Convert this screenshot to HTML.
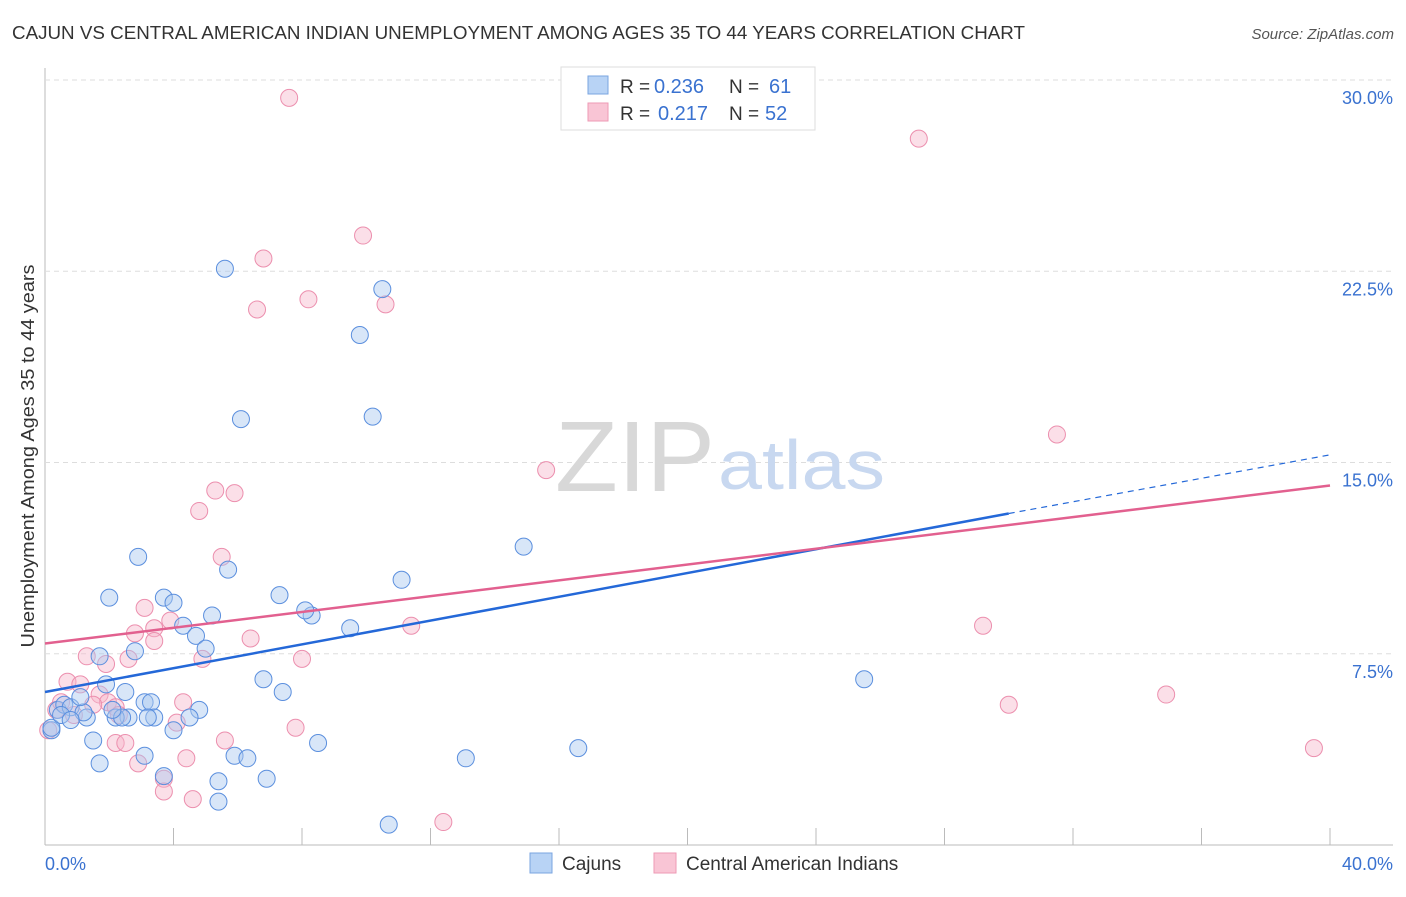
<!DOCTYPE html>
<html><head><meta charset="utf-8"><style>
body{margin:0;background:#fff;font-family:"Liberation Sans",sans-serif;}
svg text{font-family:"Liberation Sans",sans-serif;}
</style></head><body>
<svg id="c" width="1406" height="892" xmlns="http://www.w3.org/2000/svg">
<text x="12" y="39" font-size="18" fill="#333" textLength="1013" lengthAdjust="spacingAndGlyphs">CAJUN VS CENTRAL AMERICAN INDIAN UNEMPLOYMENT AMONG AGES 35 TO 44 YEARS CORRELATION CHART</text>
<text x="1394" y="39" font-size="15" fill="#555" text-anchor="end" font-style="italic">Source: ZipAtlas.com</text>
<text x="34" y="456" font-size="18" fill="#333" text-anchor="middle" textLength="383" lengthAdjust="spacingAndGlyphs" transform="rotate(-90 34 456)">Unemployment Among Ages 35 to 44 years</text>
<g id="grid"></g>
<text x="555" y="491" font-size="100" fill="#d8d8d8" textLength="160" lengthAdjust="spacingAndGlyphs" font-family="Liberation Serif">ZIP</text>
<text x="718" y="489" font-size="70" fill="#c8d8f0" textLength="167" lengthAdjust="spacingAndGlyphs">atlas</text>
<g id="pts"></g>
<g id="lines"></g>
<g>
<rect x="561" y="67" width="254" height="63" fill="#fff" stroke="#ddd"/>
<rect x="588" y="76" width="20" height="18" fill="#b8d3f5" stroke="#7aa5e0"/>
<rect x="588" y="103" width="20" height="18" fill="#f9c5d5" stroke="#ee9ab5"/>
<text x="620" y="93" font-size="19" fill="#333">R =</text>
<text x="654" y="93" font-size="20" fill="#3a72d0">0.236</text>
<text x="729" y="93" font-size="19" fill="#333">N =</text>
<text x="769" y="93" font-size="20" fill="#3a72d0">61</text>
<text x="620" y="120" font-size="19" fill="#333">R =</text>
<text x="658" y="120" font-size="20" fill="#3a72d0">0.217</text>
<text x="729" y="120" font-size="19" fill="#333">N =</text>
<text x="765" y="120" font-size="20" fill="#3a72d0">52</text>
</g>
<g>
<rect x="530" y="853" width="22" height="20" fill="#b8d3f5" stroke="#7aa5e0"/>
<text x="562" y="870" font-size="19" fill="#333">Cajuns</text>
<rect x="654" y="853" width="22" height="20" fill="#f9c5d5" stroke="#ee9ab5"/>
<text x="686" y="870" font-size="19" fill="#333">Central American Indians</text>
</g>
</svg>
<script>
const xTicks=[0,4,8,12,16,20,24,28,32,36,40];
const yTicks=[7.5,15,22.5,30];
const blueX=[5.6,10.5,9.8,6.1,10.2,14.9,2.9,11.1,5.7,2.0,3.7,4.0,5.2,7.3,8.3,8.1,4.3,4.7,9.5,2.8,5.0,1.7,1.9,2.5,6.8,7.4,25.5,3.1,3.3,4.8,4.5,3.4,2.6,2.2,2.4,1.3,0.4,0.6,0.8,1.2,0.2,0.2,4.0,1.5,8.5,16.6,3.1,5.9,6.3,13.1,1.7,3.7,5.4,6.9,5.4,10.7,1.1,0.5,2.1,0.8,3.2];
const blueY=[22.6,21.8,20.0,16.7,16.8,11.7,11.3,10.4,10.8,9.7,9.7,9.5,9.0,9.8,9.0,9.2,8.6,8.2,8.5,7.6,7.7,7.4,6.3,6.0,6.5,6.0,6.5,5.6,5.6,5.3,5.0,5.0,5.0,5.0,5.0,5.0,5.3,5.5,5.4,5.2,4.5,4.6,4.5,4.1,4.0,3.8,3.5,3.5,3.4,3.4,3.2,2.7,2.5,2.6,1.7,0.8,5.8,5.1,5.3,4.9,5.0];
const pinkX=[7.6,27.2,9.9,6.8,8.2,6.6,10.6,31.5,15.6,5.3,5.9,4.8,5.5,3.1,3.9,3.4,2.8,3.4,6.4,1.3,1.9,2.6,8.0,4.9,11.4,29.2,0.7,1.1,1.7,1.96,4.3,1.5,34.9,30.0,2.2,2.3,4.1,7.8,5.6,2.2,2.5,4.4,2.9,3.7,3.7,4.6,12.4,39.5,0.1,0.35,0.9,0.5];
const pinkY=[29.3,27.7,23.9,23.0,21.4,21.0,21.2,16.1,14.7,13.9,13.8,13.1,11.3,9.3,8.8,8.5,8.3,8.0,8.1,7.4,7.1,7.3,7.3,7.3,8.6,8.6,6.4,6.3,5.9,5.6,5.6,5.5,5.9,5.5,5.4,5.1,4.8,4.6,4.1,4.0,4.0,3.4,3.2,2.6,2.1,1.8,0.9,3.8,4.5,5.3,5.1,5.6];
const blueLine=[0,6.0,30,13.0,40,15.3];
const pinkLine=[0,7.9,40,14.1];
const NS="http://www.w3.org/2000/svg";
const X=v=>45+v*32.125, Y=v=>845-v*25.5;
function mk(t,a,p){const e=document.createElementNS(NS,t);for(const k in a)e.setAttribute(k,a[k]);p.appendChild(e);return e;}
const svg=document.getElementById('c'),grid=document.getElementById('grid'),pts=document.getElementById('pts'),lines=document.getElementById('lines');
mk('line',{x1:45,y1:68,x2:45,y2:845,stroke:'#bbb'},grid);
mk('line',{x1:45,y1:845,x2:1393,y2:845,stroke:'#bbb'},grid);
yTicks.forEach(t=>{
 const l=mk('line',{x1:45,x2:1393,y1:Y(t),y2:Y(t),stroke:'#ddd','stroke-dasharray':'5,4'},grid);
 
 
 const tx=mk('text',{x:1393,y:Y(t)+24,'font-size':18,fill:'#3a72d0','text-anchor':'end'},grid);tx.textContent=t.toFixed(1)+'%';
 
 
});
xTicks.forEach((t,i)=>{
 const l=mk('line',{x1:X(t),x2:X(t),y1:828,y2:845,stroke:'#bbb'},grid);
 
 
});
[[0,'0.0%','start',45],[40,'40.0%','end',1393]].forEach(a=>{
 const tx=mk('text',{x:a[3],y:870,'font-size':18,fill:'#3a72d0','text-anchor':a[2]},grid);tx.textContent=a[1];
 
 
});
function dots(xs,ys,f,s,name){xs.forEach((v,i)=>{
 const c=mk('circle',{cx:X(v),cy:Y(ys[i]),r:8.5,fill:f,'fill-opacity':0.45,stroke:s,'stroke-width':1},pts);
 
 
});}
dots(pinkX,pinkY,'#f7b8cc','#ec8fae','pink-point');
dots(blueX,blueY,'#a9c8f0','#5b8fde','blue-point');
let l=mk('line',{x1:X(blueLine[0]),y1:Y(blueLine[1]),x2:X(blueLine[2]),y2:Y(blueLine[3]),stroke:'#2468d8','stroke-width':2.5},lines);


l=mk('line',{x1:X(blueLine[2]),y1:Y(blueLine[3]),x2:X(blueLine[4]),y2:Y(blueLine[5]),stroke:'#2468d8','stroke-width':1.2,'stroke-dasharray':'6,5'},lines);


l=mk('line',{x1:X(pinkLine[0]),y1:Y(pinkLine[1]),x2:X(pinkLine[2]),y2:Y(pinkLine[3]),stroke:'#e2608f','stroke-width':2.5},lines);


</script>
</body></html>
